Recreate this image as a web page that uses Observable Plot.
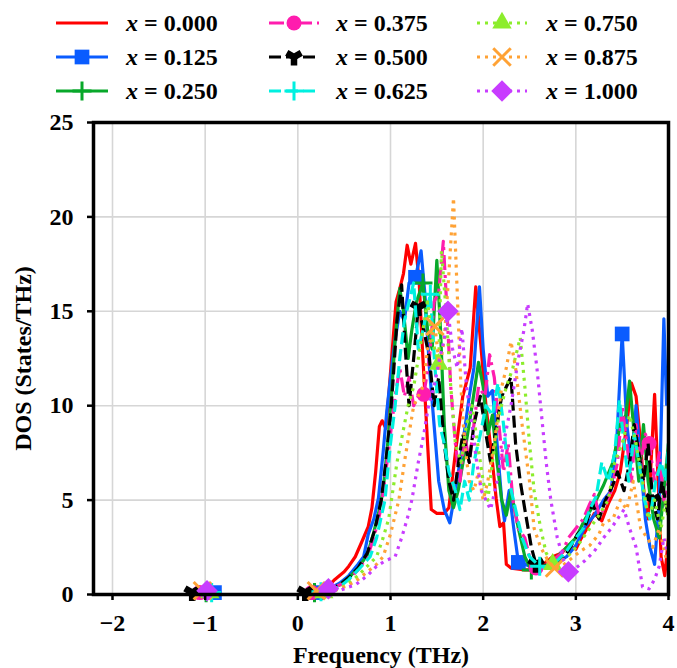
<!DOCTYPE html>
<html><head><meta charset="utf-8">
<script src="https://cdn.jsdelivr.net/npm/d3@7"></script>
<script src="https://cdn.jsdelivr.net/npm/@observablehq/plot@0.6"></script>
<style>
body{margin:0;background:#fff;font-family:"Liberation Serif","Times New Roman",serif;}
#legend{display:block;}
#chart svg{display:block;}
</style></head><body>
<svg id="legend" width="677" height="110"></svg>
<div id="chart"></div>
<script>
// ---------- data ----------
const seriesLabels = ["0.000","0.125","0.250","0.375","0.500","0.625","0.750","0.875","1.000"];
const seriesColors = ["#ff0000","#0a5cff","#08a82a","#ff1cae","#000000","#00f0e0","#8ced2c","#ffa235","#c83cff"];
const xTicks = [-2,-1,0,1,2,3,4];
const yTicks = [0,5,10,15,20,25];

const s000 = [[-1.15,0],[0.2,0],[0.3,0.3],[0.4,0.8],[0.5,1.2],[0.55,1.5],[0.62,2.0],[0.7,2.9],[0.76,3.6],[0.8,4.6],[0.84,6.5],[0.88,8.9],[0.91,9.2],[0.95,8.8],[0.98,10.5],[1.02,13],[1.06,15.5],[1.1,16.2],[1.14,17.0],[1.18,18.5],[1.22,17.5],[1.27,18.6],[1.31,16.5],[1.35,12.5],[1.4,8],[1.44,4.5],[1.5,4.3],[1.58,4.3],[1.63,4.6],[1.7,7.5],[1.78,10.5],[1.86,12],[1.92,16.3],[1.97,13.5],[2.03,10],[2.1,7],[2.14,5.1],[2.18,3.6],[2.22,3.8],[2.25,1.6],[2.3,1.4],[2.45,1.3],[2.55,1.3],[2.65,1.6],[2.75,2.0],[2.85,2.2],[2.92,2.6],[3.0,2.4],[3.05,2.9],[3.12,3.5],[3.2,4.3],[3.28,3.9],[3.35,4.8],[3.42,5.5],[3.48,6.5],[3.55,9],[3.6,11.2],[3.65,10.5],[3.7,8],[3.74,5],[3.78,4],[3.85,10.6],[3.88,7],[3.92,2],[3.96,1],[4.0,3]];
const s125 = [[-1.15,0],[0.2,0],[0.3,0.2],[0.45,0.6],[0.55,1.0],[0.65,1.6],[0.71,2.0],[0.76,3.2],[0.82,4.0],[0.87,5.1],[0.92,7.5],[0.96,9.7],[1.0,11.5],[1.05,13.5],[1.1,15],[1.15,14.5],[1.2,16.5],[1.27,16.8],[1.33,18.2],[1.37,16],[1.42,12],[1.47,9],[1.52,6],[1.58,4.5],[1.64,3.8],[1.7,5.5],[1.78,8],[1.85,10.5],[1.9,12],[1.96,16.3],[2.0,13],[2.05,10.5],[2.1,10.8],[2.15,8],[2.2,5],[2.23,3.9],[2.28,5.5],[2.33,3.5],[2.38,1.7],[2.45,1.6],[2.55,1.4],[2.7,1.5],[2.8,1.7],[2.9,2.0],[3.0,2.6],[3.1,3.6],[3.2,4.2],[3.3,5],[3.38,5.5],[3.44,8],[3.5,13.8],[3.55,9],[3.6,7],[3.65,10],[3.7,7],[3.75,4],[3.8,2.5],[3.85,1.6],[3.9,5],[3.95,14.6],[3.98,10]];
const s250 = [[-1.15,0],[0.2,0],[0.3,0.2],[0.45,0.5],[0.55,0.9],[0.65,1.4],[0.75,2.1],[0.82,3.3],[0.88,4.5],[0.92,5.5],[0.97,8],[1.01,10.5],[1.05,13.5],[1.1,16.2],[1.14,15],[1.19,12.5],[1.23,14],[1.28,15.5],[1.35,16.5],[1.4,14],[1.45,13],[1.5,17.7],[1.54,14],[1.58,9],[1.63,5.5],[1.68,4.6],[1.73,5.5],[1.8,7.5],[1.88,10],[1.95,12.3],[2.0,11],[2.05,8.5],[2.1,9.5],[2.15,7],[2.2,5],[2.25,4.2],[2.3,5.5],[2.38,3.5],[2.45,2],[2.52,1.3],[2.6,1.4],[2.7,1.6],[2.8,2.0],[2.9,2.5],[3.0,3.0],[3.1,4.0],[3.2,4.8],[3.3,5.8],[3.4,7],[3.48,9],[3.54,9.5],[3.58,11.3],[3.63,8.5],[3.68,6],[3.73,9],[3.78,6],[3.84,4],[3.9,3],[3.96,6],[4.0,8]];
const s375 = [[-1.15,0],[0.2,0],[0.3,0.2],[0.45,0.5],[0.55,0.8],[0.65,1.3],[0.75,2.0],[0.82,3.0],[0.9,4.6],[0.95,6.5],[1.0,8.5],[1.05,10.5],[1.1,12],[1.15,10.5],[1.2,11.5],[1.25,10],[1.3,10.5],[1.36,10.6],[1.42,12.5],[1.47,15.5],[1.52,16],[1.57,18.7],[1.61,15],[1.65,11],[1.7,8],[1.75,6],[1.8,8.5],[1.85,7],[1.9,9],[1.95,11],[2.02,10.5],[2.07,12.7],[2.12,11.5],[2.17,9],[2.22,6.5],[2.27,8],[2.32,5],[2.38,3.5],[2.45,3],[2.5,2],[2.57,1.4],[2.65,1.5],[2.75,1.8],[2.85,2.2],[2.92,3],[3.0,3.5],[3.08,4],[3.15,4.8],[3.2,5.3],[3.25,4.2],[3.3,4.5],[3.38,5.5],[3.45,7],[3.5,10],[3.55,8],[3.6,6],[3.65,9],[3.7,7],[3.75,8.5],[3.79,8.0],[3.85,6],[3.9,7.5],[3.95,5],[4.0,6]];
const s500 = [[-1.15,0],[0.2,0],[0.3,0.2],[0.45,0.5],[0.55,0.9],[0.65,1.4],[0.75,2.2],[0.83,3.4],[0.9,5],[0.95,7],[1.0,9.5],[1.03,11.5],[1.07,14.5],[1.12,16.4],[1.16,13],[1.2,10],[1.25,12.5],[1.3,15.2],[1.36,14],[1.42,12.5],[1.47,10],[1.52,11.5],[1.58,8],[1.63,6],[1.68,5],[1.72,6.5],[1.78,8.5],[1.85,7],[1.9,9],[1.97,10.5],[2.03,8.5],[2.08,7],[2.13,8.5],[2.2,10.5],[2.25,11],[2.3,11.5],[2.35,8],[2.4,6],[2.45,4.5],[2.52,2.5],[2.57,1.6],[2.65,1.5],[2.75,1.5],[2.82,1.7],[2.88,2],[2.95,2.6],[3.02,3.2],[3.1,3.6],[3.18,4.8],[3.25,4],[3.32,5],[3.4,5.8],[3.45,6.5],[3.52,5.5],[3.58,7],[3.63,9],[3.68,7.5],[3.73,6],[3.78,8],[3.83,5],[3.88,4],[3.93,6],[4.0,4]];
const s625 = [[-1.15,0],[0.2,0],[0.3,0.2],[0.45,0.4],[0.55,0.8],[0.65,1.3],[0.78,2.0],[0.85,3.0],[0.94,5],[1.0,8],[1.05,10],[1.1,12.5],[1.15,14.5],[1.2,15.5],[1.25,16.5],[1.3,13],[1.35,14],[1.43,15.9],[1.48,12],[1.53,9],[1.58,8],[1.63,6.5],[1.7,5.5],[1.75,4.5],[1.8,6],[1.85,5],[1.9,7],[1.97,8.5],[2.03,10],[2.1,9.5],[2.16,11.2],[2.22,9],[2.28,6],[2.35,4.5],[2.42,3],[2.5,2],[2.61,1.5],[2.7,1.4],[2.8,1.8],[2.9,2.3],[3.0,3.0],[3.08,3.5],[3.15,4.5],[3.22,5.2],[3.28,7],[3.35,6],[3.42,7.5],[3.47,10.3],[3.52,8],[3.57,6],[3.63,8.5],[3.68,7],[3.74,5],[3.8,4],[3.86,6],[3.92,7],[3.97,6],[4.0,8]];
const s750 = [[-1.15,0],[0.2,0],[0.3,0.1],[0.45,0.3],[0.55,0.6],[0.65,1.0],[0.75,1.5],[0.85,2.0],[0.92,3],[0.98,4],[1.01,5],[1.07,7],[1.13,8.5],[1.19,10],[1.25,11],[1.3,12.5],[1.35,14],[1.4,15.5],[1.45,13.5],[1.52,12.2],[1.55,18.2],[1.6,15],[1.65,11],[1.7,8],[1.76,7],[1.82,9],[1.88,10],[1.94,8],[2.0,6],[2.05,5],[2.1,7],[2.17,9.5],[2.25,11],[2.32,12],[2.4,13.6],[2.45,11],[2.5,8],[2.55,5.5],[2.62,3.5],[2.68,2.2],[2.75,1.6],[2.85,1.8],[2.95,2.2],[3.05,2.8],[3.15,3.5],[3.25,4.2],[3.35,5],[3.42,7],[3.5,8],[3.58,9.5],[3.65,8],[3.72,6],[3.78,4],[3.85,5],[3.92,3.5],[3.97,5],[4.0,4]];
const s875 = [[-1.15,0],[0.2,0],[0.3,0.1],[0.45,0.3],[0.55,0.5],[0.65,0.8],[0.75,1.2],[0.85,1.6],[0.92,2.0],[1.0,3.2],[1.09,5],[1.15,7],[1.2,8.5],[1.25,10],[1.3,10.5],[1.35,11],[1.4,13],[1.48,14.2],[1.53,12],[1.58,13.5],[1.63,17],[1.68,21],[1.72,16],[1.76,11],[1.8,8],[1.85,6],[1.9,5.5],[1.95,6.5],[2.0,5],[2.05,6],[2.12,8],[2.2,11],[2.25,12],[2.3,13.4],[2.35,12],[2.42,9],[2.5,6],[2.55,3.5],[2.62,2.5],[2.7,1.8],[2.77,1.4],[2.85,1.5],[2.95,1.9],[3.05,2.3],[3.15,2.6],[3.25,3.2],[3.3,3.8],[3.4,4],[3.48,5.0],[3.55,4.5],[3.62,6],[3.7,3.5],[3.77,3],[3.83,2.5],[3.9,3.5],[3.97,2],[4.0,3]];
const s1000 = [[-1.15,0],[0.2,0],[0.33,0.3],[0.45,0.2],[0.55,0.4],[0.62,0.5],[0.75,1.0],[0.85,1.5],[0.95,1.8],[1.05,2.0],[1.12,3],[1.18,4],[1.23,5],[1.3,7],[1.36,8.5],[1.41,10],[1.47,11],[1.53,12.5],[1.58,13.5],[1.62,15],[1.67,13],[1.72,12],[1.77,14.1],[1.82,11],[1.88,9],[1.93,7],[1.98,5.5],[2.03,5],[2.08,4.5],[2.15,6],[2.22,8],[2.3,10],[2.38,12.5],[2.44,14],[2.48,15.4],[2.53,14],[2.58,12],[2.63,9.5],[2.68,7],[2.73,5],[2.8,3],[2.87,1.8],[2.92,1.2],[3.0,1.4],[3.1,1.8],[3.2,2.3],[3.3,3.0],[3.38,3.5],[3.45,4],[3.52,4.5],[3.58,3.5],[3.65,2.5],[3.72,0.4],[3.79,0.3],[3.85,0.8],[3.9,1.5],[3.95,3],[4.0,2]];

// marker positions (points on each curve)
const m000 = [];
const m125 = [[-0.9,0.1],[0.2,0.1],[1.27,16.8],[2.38,1.7],[3.5,13.8]];
const m250 = [[-0.99,0.1],[0.18,0.1],[1.35,16.5],[2.52,1.3]];
const m375 = [[-1.06,0.1],[0.15,0.1],[1.36,10.6],[2.57,1.4],[3.79,8.0]];
const m500 = [[-1.14,0.1],[0.08,0.1],[1.3,15.2],[2.57,1.6],[3.83,5]];
const m625 = [[-0.93,0.1],[0.25,0.15],[1.43,15.9],[2.61,1.5]];
const m750 = [[-0.95,0.1],[0.28,0.1],[1.52,12.2],[2.75,1.6]];
const m875 = [[-1.03,0.2],[0.2,0.2],[1.48,14.2],[2.77,1.4]];
const m1000 = [[-0.98,0.2],[0.33,0.3],[1.62,15],[2.92,1.2]];

const allSeries = [s000,s125,s250,s375,s500,s625,s750,s875,s1000];
const allMarkers = [m000,m125,m250,m375,m500,m625,m750,m875,m1000];

// ---------- styles ----------
const dashes = [null,null,null,"15,5,3,5","12,5","12,5","3,5","3,5","3,5"];
const symbols = [null,"square","plus","circle","wye","plus","triangle","times","square"];
const rotates = [0,0,0,0,0,0,0,0,45];
const radii = [0,8.3,6.2,7.5,6.8,6.2,7.2,8,8.6];
const stroked = s => s === "plus" || s === "times";

const marks = [
  Plot.gridX([-2,-1,0,1,2,3], {stroke:"#d6d6d6", strokeOpacity:1, strokeWidth:1.6}),
  Plot.gridY([5,10,15,20], {stroke:"#d6d6d6", strokeOpacity:1, strokeWidth:1.6})
];
allSeries.forEach((s, i) => {
  const data = s.map(([f, d]) => ({f, d}));
  marks.push(Plot.line(data, {x:"f", y:"d", stroke:seriesColors[i], strokeWidth:3.2,
    strokeDasharray:dashes[i] || undefined, strokeLinejoin:"round", strokeLinecap:"butt", clip:true}));
  const md = allMarkers[i].map(([f, d]) => ({f, d}));
  if (md.length) {
    const sym = symbols[i];
    marks.push(Plot.dot(md, stroked(sym)
      ? {x:"f", y:"d", symbol:sym, r:radii[i], stroke:seriesColors[i], strokeWidth:3, fill:"none"}
      : {x:"f", y:"d", symbol:sym, r:radii[i], fill:seriesColors[i], stroke:"none", rotate:rotates[i]}));
  }
});
marks.push(
  Plot.frame({stroke:"black", strokeWidth:3.5}),
  Plot.axisX(xTicks, {tickSize:6, tickPadding:13, strokeWidth:2.5, label:"Frequency (THz)", labelAnchor:"center", labelArrow:"none", labelOffset:68}),
  Plot.axisY(yTicks, {tickSize:6, tickPadding:14, strokeWidth:2.5, label:"DOS (States/THz)", labelAnchor:"center", labelArrow:"none", labelOffset:80})
);

const chart = Plot.plot({
  width:677, height:558,
  marginTop:12, marginBottom:74, marginLeft:93, marginRight:9,
  x:{domain:[-2.205,4]},
  y:{domain:[0,25]},
  style:{fontFamily:"'Liberation Serif', 'Times New Roman', serif", fontSize:"24px", fontWeight:"bold", color:"black", background:"white", overflow:"visible"},
  marks
});
document.getElementById("chart").appendChild(chart);

// ---------- legend ----------
const lg = d3.select("#legend");
const colLine = [[56,108],[269,319],[477,527]];
const colText = [126,336,546];
const rowY = [23,57,91];
const symMap = {square:d3.symbolSquare, plus:d3.symbolPlus, circle:d3.symbolCircle, wye:d3.symbolWye, triangle:d3.symbolTriangle, times:d3.symbolTimes};
seriesLabels.forEach((lab, i) => {
  const col = Math.floor(i / 3), row = i % 3, y = rowY[row];
  const [x0, x1] = colLine[col];
  lg.append("line").attr("x1", x0).attr("x2", x1).attr("y1", y).attr("y2", y)
    .attr("stroke", seriesColors[i]).attr("stroke-width", 3.2)
    .attr("stroke-dasharray", dashes[i] || null);
  const sym = symbols[i];
  if (sym) {
    const p = d3.symbol(symMap[sym], Math.PI * radii[i] * radii[i])();
    const g = lg.append("path").attr("d", p)
      .attr("transform", `translate(${(x0 + x1) / 2},${y}) rotate(${rotates[i]})`);
    if (stroked(sym)) g.attr("fill", "none").attr("stroke", seriesColors[i]).attr("stroke-width", 3);
    else g.attr("fill", seriesColors[i]);
  }
  const t = lg.append("text").attr("x", colText[col]).attr("y", y + 8)
    .attr("font-family", "'Liberation Serif', 'Times New Roman', serif")
    .attr("font-size", 24).attr("font-weight", "bold");
  t.append("tspan").attr("font-style", "italic").text("x");
  t.append("tspan").text(" = " + lab);
});
</script>
</body></html>
